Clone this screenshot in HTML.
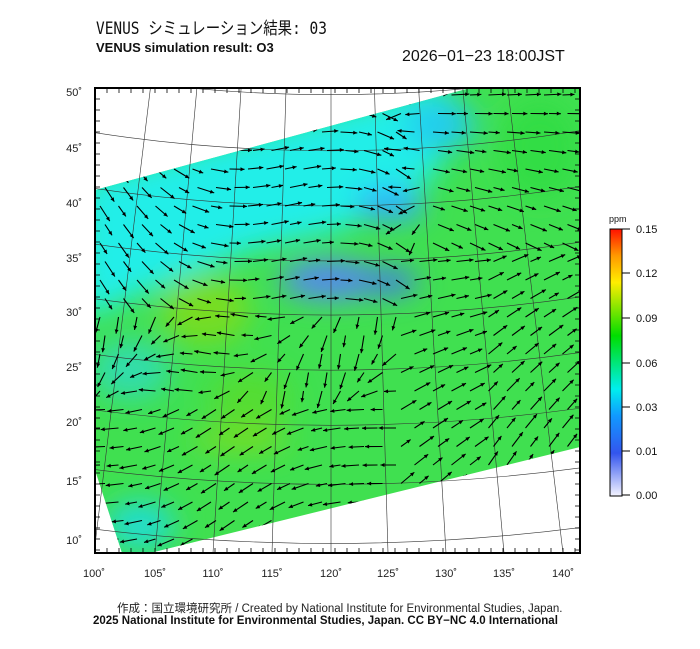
<!DOCTYPE html>
<html><head><meta charset="utf-8"><style>
body{margin:0;background:#fff;width:700px;height:649px;overflow:hidden;font-family:"Liberation Sans","Noto Sans CJK JP",sans-serif}
.t{position:absolute;white-space:nowrap;color:#111}
</style></head><body>
<div class="t" style="left:96px;top:14px;font-size:17px;font-family:'DejaVu Sans Mono','Noto Sans CJK JP',monospace;transform:scaleX(0.85);transform-origin:left">VENUS シミュレーション結果: 03</div>
<div class="t" style="left:96px;top:40px;font-size:13px;font-weight:bold">VENUS simulation result: O3</div>
<div class="t" style="left:402px;top:48px;font-size:16px">2026−01−23 18:00JST</div>
<svg id="s" width="700" height="649" style="position:absolute;left:0;top:0">
<defs>
<clipPath id="dc"><polygon points="95,190 470,88 580,88 580,447 150,553 122,553 95,470"/></clipPath>
<clipPath id="fc"><rect x="95" y="88" width="485" height="465"/></clipPath>
<filter id="b"><feGaussianBlur stdDeviation="14"/></filter>
<linearGradient id="cb" x1="0" y1="1" x2="0" y2="0">
<stop offset="0" stop-color="#f4f4ff"/><stop offset="0.16" stop-color="#3355ee"/><stop offset="0.3" stop-color="#1199ff"/><stop offset="0.4" stop-color="#00eeee"/><stop offset="0.6" stop-color="#00dd00"/><stop offset="0.8" stop-color="#ffee00"/><stop offset="0.9" stop-color="#ff9900"/><stop offset="1" stop-color="#ff1100"/></linearGradient>
</defs>
<g clip-path="url(#dc)">
<rect x="90" y="80" width="500" height="480" fill="#40e050"/>
<g filter="url(#b)">
<polygon points="80,180 450,80 440,170 400,200 340,230 250,250 150,290 80,320" fill="#22eee8"/>
<ellipse cx="130" cy="370" rx="40" ry="30" fill="#33ddaa"/>
<ellipse cx="205" cy="310" rx="45" ry="35" fill="#77dd22"/>
<ellipse cx="330" cy="280" rx="50" ry="20" fill="#5588ee"/>
<ellipse cx="390" cy="282" rx="28" ry="13" fill="#4477ee"/>
<ellipse cx="390" cy="205" rx="35" ry="16" fill="#33aaff"/>
<ellipse cx="250" cy="400" rx="40" ry="30" fill="#55dd33"/>
<ellipse cx="140" cy="525" rx="35" ry="25" fill="#22ddcc"/>
<ellipse cx="540" cy="150" rx="40" ry="50" fill="#33dd44"/>
<ellipse cx="440" cy="125" rx="35" ry="25" fill="#22ccee"/>
<ellipse cx="240" cy="440" rx="50" ry="12" fill="#77dd22"/>
</g>
</g>
<g id="grid" clip-path="url(#fc)" stroke="#333" stroke-width="0.6" fill="none"></g>
<g id="arr" clip-path="url(#dc)" stroke="#000" fill="#000" stroke-width="1.1"></g>
<rect x="95" y="88" width="485" height="465" fill="none" stroke="#000" stroke-width="2"/>
<g id="tk" stroke="#000" stroke-width="0.8"></g>
<rect x="610" y="229" width="12" height="267" fill="url(#cb)" stroke="#000" stroke-width="1"/>
<g font-size="11" fill="#111">
<text x="609" y="222" font-size="9">ppm</text>
<text x="636" y="233">0.15</text><text x="636" y="277">0.12</text><text x="636" y="322">0.09</text>
<text x="636" y="367">0.06</text><text x="636" y="411">0.03</text><text x="636" y="455">0.01</text><text x="636" y="499">0.00</text>
</g>
<g stroke="#000" stroke-width="1"><line x1="622" y1="229" x2="630" y2="229"/><line x1="622" y1="273" x2="630" y2="273"/><line x1="622" y1="318" x2="630" y2="318"/><line x1="622" y1="363" x2="630" y2="363"/><line x1="622" y1="407" x2="630" y2="407"/><line x1="622" y1="451" x2="630" y2="451"/><line x1="622" y1="495" x2="630" y2="495"/></g>
<g font-size="11" fill="#222" text-anchor="middle">
<text x="94" y="577">100˚</text><text x="155" y="577">105˚</text><text x="213" y="577">110˚</text><text x="272" y="577">115˚</text><text x="331" y="577">120˚</text><text x="388" y="577">125˚</text><text x="446" y="577">130˚</text><text x="504" y="577">135˚</text><text x="563" y="577">140˚</text>
</g>
<g font-size="11" fill="#222" text-anchor="end">
<text x="82" y="96">50˚</text><text x="82" y="152">45˚</text><text x="82" y="207">40˚</text><text x="82" y="262">35˚</text><text x="82" y="316">30˚</text><text x="82" y="371">25˚</text><text x="82" y="426">20˚</text><text x="82" y="485">15˚</text><text x="82" y="544">10˚</text>
</g>
</svg>
<div class="t" style="left:117px;top:600px;font-size:11.5px;color:#222">作成：国立環境研究所 / Created by National Institute for Environmental Studies, Japan.</div>
<div class="t" style="left:93px;top:615px;font-size:11.5px;font-weight:bold">2025 National Institute for Environmental Studies, Japan. CC BY−NC 4.0 International</div>
<script>
var ns="http://www.w3.org/2000/svg",g=document.getElementById('grid'),a=document.getElementById('arr'),tk=document.getElementById('tk');
function el(p,t,at){var e=document.createElementNS(ns,t);for(var k in at)e.setAttribute(k,at[k]);p.appendChild(e);return e}
var px=331,py=-1400;
var bx=[94,155,213,272,331,388,446,504,563];
bx.forEach(function(x){el(g,'line',{x1:x,y1:553,x2:x+(px-x)*0.35,y2:553+(py-553)*0.35});});
var ly=[92,148,203,258,312,367,422,481,540];
ly.forEach(function(y){var r=y-py;el(g,'path',{d:'M'+(px-r*0.5)+','+(py+r*Math.cos(0.52))+' A'+r+','+r+' 0 0 0 '+(px+r*0.5)+','+(py+r*Math.cos(0.52))});});
for(var x=95;x<=580;x+=12){el(tk,'line',{x1:x,y1:553,x2:x,y2:548});el(tk,'line',{x1:x,y1:88,x2:x,y2:93});}
for(var y=88;y<=553;y+=11){el(tk,'line',{x1:95,y1:y,x2:100,y2:y});el(tk,'line',{x1:580,y1:y,x2:575,y2:y});}
function ang(x,y){
 var d;
 if(x>400&&y>250) d=Math.atan2(-0.4-(y-350)/300,1)+ (x>480?-0.3:0);
 else if(x>420&&y<250) d=0.2+(y-170)/300;
 else if(y<300&&x<400) d=0.4+Math.sin(x/60)*0.6;
 else if(y>400) d=Math.PI-0.3+Math.sin(x/50)*0.3;
 else d=Math.PI*0.8+Math.sin((x+y)/40)*0.8;
 return d;}
for(var j=0;j<25;j++)for(var i=0;i<27;i++){
 var x=100+i*18.5+(j%2)*5,y=95+j*18.5;
 var d=ang(x,y),L=11+7*Math.abs(Math.sin(x*0.07+y*0.05));
 var ex=x+Math.cos(d)*L,ey=y+Math.sin(d)*L;
 el(a,'line',{x1:x,y1:y,x2:ex,y2:ey});
 var h=4.5,w=0.45;
 el(a,'polygon',{points:ex+','+ey+' '+(ex-Math.cos(d-w)*h)+','+(ey-Math.sin(d-w)*h)+' '+(ex-Math.cos(d+w)*h)+','+(ey-Math.sin(d+w)*h),stroke:'none'});
}
</script>
</body></html>
